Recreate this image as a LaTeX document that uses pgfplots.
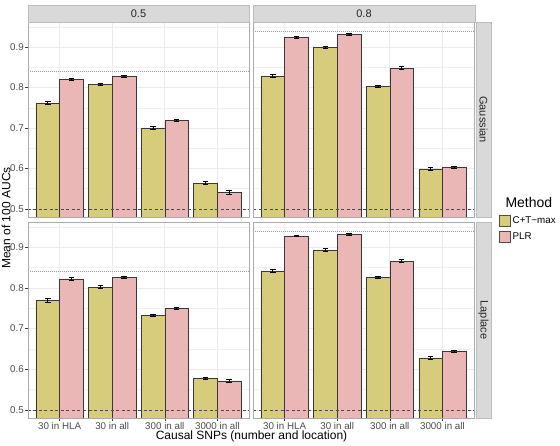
\documentclass[border=0pt]{standalone}
\usepackage{fontspec}
\setmainfont{Liberation Sans}
\usepackage{pgfplots}
\pgfplotsset{compat=1.18}
\definecolor{ct}{HTML}{D6CC7C}
\definecolor{plr}{HTML}{EBB6B6}
\definecolor{stripfill}{HTML}{D9D9D9}
\definecolor{stripborder}{HTML}{BDBDBD}
\definecolor{panelborder}{HTML}{ABABAB}
\definecolor{gridc}{HTML}{EBEBEB}
\definecolor{tickc}{HTML}{4D4D4D}
\definecolor{refblue}{HTML}{9494F0}
\pgfplotsset{
  panel/.style={
    scale only axis, width=221pt, height=195pt,
    xmin=-0.6, xmax=3.6, ymin=0.48, ymax=0.962,
    bar width=0.45,
    xtick={0,1,2,3}, ytick={0.5,0.6,0.7,0.8,0.9},
    minor ytick={0.55,0.65,0.75,0.85,0.95},
    grid=both,
    major grid style={gridc, line width=0.7pt},
    minor grid style={gridc!70, line width=0.35pt},
    axis line style={draw=none},
    tick align=outside, major tick length=2.8pt, minor tick length=0pt,
    tick style={color=black!75, line width=0.5pt},
    xtick pos=bottom, ytick pos=left,
    xticklabels={30 in HLA, 30 in all, 300 in all, 3000 in all},
    yticklabels={0.5,0.6,0.7,0.8,0.9},
    ticklabel style={font=\fontsize{9.8}{11}\selectfont, text=tickc},
    xticklabel style={inner sep=1pt},
    yticklabel style={inner sep=1.2pt},
    after end axis/.code={\draw[panelborder, line width=0.6pt] (rel axis cs:0,0) rectangle (rel axis cs:1,1);},
  },
  noxt/.style={xticklabels={}, xtick style={draw=none}},
  noyt/.style={yticklabels={}, ytick style={draw=none}},
  errs/.style={error bars/.cd, y dir=both, y explicit,
    error bar style={black, line width=0.9pt},
    error mark options={black, line width=0.9pt, mark size=2.8pt, rotate=90}},
  ctbar/.style={ybar, bar shift=0pt, fill=ct, draw=black!78, line width=0.5pt, errs},
  plrbar/.style={ybar, bar shift=0pt, fill=plr, draw=black!78, line width=0.5pt, errs},
  dashref/.style={dash pattern=on 3pt off 2.5pt, black!70, line width=0.55pt, no marks, forget plot},
  dotref/.style={dash pattern=on 1pt off 1pt, refblue, line width=0.7pt, no marks, forget plot},
}
\begin{document}
\begin{tikzpicture}
% Top-left: Gaussian, 0.5
\begin{axis}[panel, noxt, at={(28pt,229pt)}, anchor=south west]
\addplot[ctbar] coordinates {(-0.225,0.761) +- (0,0.004) (0.775,0.808) +- (0,0.003) (1.775,0.700) +- (0,0.003) (2.775,0.564) +- (0,0.003)};
\addplot[plrbar] coordinates {(0.225,0.820) +- (0,0.003) (1.225,0.827) +- (0,0.002) (2.225,0.718) +- (0,0.003) (3.225,0.541) +- (0,0.005)};
\addplot[dashref] coordinates {(-0.6,0.5) (3.6,0.5)};
\addplot[dotref] coordinates {(-0.6,0.84) (3.6,0.84)};
\end{axis}
% Top-right: Gaussian, 0.8
\begin{axis}[panel, noxt, noyt, at={(253pt,229pt)}, anchor=south west]
\addplot[ctbar] coordinates {(-0.225,0.828) +- (0,0.004) (0.775,0.899) +- (0,0.003) (1.775,0.803) +- (0,0.003) (2.775,0.599) +- (0,0.003)};
\addplot[plrbar] coordinates {(0.225,0.924) +- (0,0.002) (1.225,0.931) +- (0,0.002) (2.225,0.848) +- (0,0.003) (3.225,0.603) +- (0,0.003)};
\addplot[dashref] coordinates {(-0.6,0.5) (3.6,0.5)};
\addplot[dotref] coordinates {(-0.6,0.94) (3.6,0.94)};
\end{axis}
% Bottom-left: Laplace, 0.5
\begin{axis}[panel, height=196pt, at={(28pt,28pt)}, anchor=south west]
\addplot[ctbar] coordinates {(-0.225,0.769) +- (0,0.004) (0.775,0.802) +- (0,0.003) (1.775,0.732) +- (0,0.003) (2.775,0.578) +- (0,0.002)};
\addplot[plrbar] coordinates {(0.225,0.822) +- (0,0.003) (1.225,0.825) +- (0,0.002) (2.225,0.750) +- (0,0.003) (3.225,0.571) +- (0,0.004)};
\addplot[dashref] coordinates {(-0.6,0.5) (3.6,0.5)};
\addplot[dotref] coordinates {(-0.6,0.84) (3.6,0.84)};
\end{axis}
% Bottom-right: Laplace, 0.8
\begin{axis}[panel, noyt, height=196pt, at={(253pt,28pt)}, anchor=south west,
  legend style={at={(1.113,1.04)}, anchor=north west, draw=none, fill=none,
    font=\fontsize{9.8}{11}\selectfont, row sep=4pt, inner sep=0pt,
    cells={anchor=west}},
  legend image code/.code={\draw[fill=#1, draw=black!70, line width=0.5pt] (0pt,-5.5pt) rectangle (11pt,5.5pt);},
  legend cell align=left]
\addplot[ctbar] coordinates {(-0.225,0.841) +- (0,0.004) (0.775,0.893) +- (0,0.003) (1.775,0.826) +- (0,0.003) (2.775,0.628) +- (0,0.003)};
\addlegendentry[xshift=2pt]{C+T−max}
\addplot[plrbar] coordinates {(0.225,0.928) +- (0,0.002) (1.225,0.931) +- (0,0.002) (2.225,0.866) +- (0,0.003) (3.225,0.644) +- (0,0.003)};
\addlegendentry[xshift=2pt]{PLR}
\addplot[dashref] coordinates {(-0.6,0.5) (3.6,0.5)};
\addplot[dotref] coordinates {(-0.6,0.94) (3.6,0.94)};
\end{axis}
% strips
\draw[fill=stripfill, draw=stripborder, line width=0.6pt] (28pt,424pt) rectangle (249pt,441pt);
\node[font=\fontsize{11}{13}\selectfont, text=black!85] at (138.5pt,432.5pt) {0.5};
\draw[fill=stripfill, draw=stripborder, line width=0.6pt] (253pt,424pt) rectangle (475pt,441pt);
\node[font=\fontsize{11}{13}\selectfont, text=black!85] at (364pt,432.5pt) {0.8};
\draw[fill=stripfill, draw=stripborder, line width=0.6pt] (476pt,229pt) rectangle (491pt,424pt);
\node[font=\fontsize{11}{13}\selectfont, text=black!85, rotate=-90] at (483.5pt,326.5pt) {Gaussian};
\draw[fill=stripfill, draw=stripborder, line width=0.6pt] (476pt,28pt) rectangle (491pt,224pt);
\node[font=\fontsize{11}{13}\selectfont, text=black!85, rotate=-90] at (483.5pt,126pt) {Laplace};
% axis titles
\node[font=\fontsize{12}{14}\selectfont, rotate=90] at (6pt,228pt) {Mean of 100 AUCs};
\node[font=\fontsize{12}{14}\selectfont] at (251.5pt,9.5pt) {Causal SNPs (number and location)};
\node[font=\fontsize{14}{16}\selectfont, anchor=west] at (502pt,243pt) {Method};
\pgfresetboundingbox
\useasboundingbox (0,0) rectangle (560pt,446pt);
\end{tikzpicture}
\end{document}
